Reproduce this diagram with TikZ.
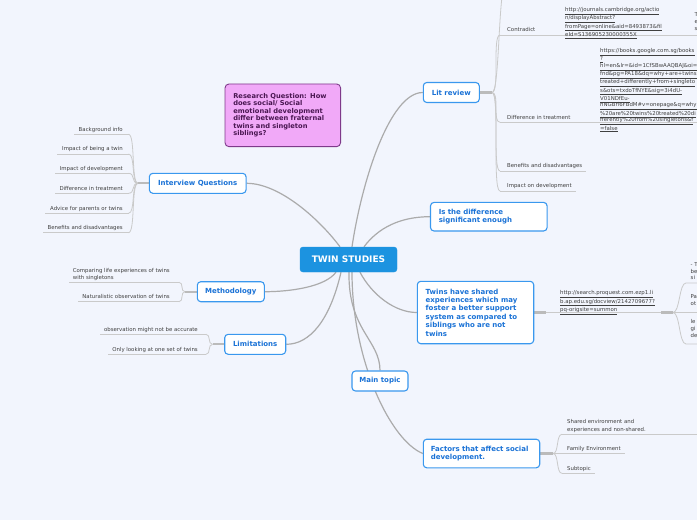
\documentclass[tikz,border=0pt]{standalone}
\usepackage{fontspec}
\setmainfont{DejaVu Sans}
\usetikzlibrary{calc}
\pgfdeclarelayer{back}
\pgfsetlayers{back,main}
\definecolor{bgcol}{HTML}{F2F5FD}
\definecolor{nodeblue}{HTML}{3A98EE}
\definecolor{txtblue}{HTML}{1A72D6}
\definecolor{centerblue}{HTML}{1C93E0}
\definecolor{linegray}{HTML}{ABABAB}
\definecolor{stubgray}{HTML}{BBBBBB}
\definecolor{sublinegray}{HTML}{CACACA}
\definecolor{subtxt}{HTML}{404040}
\definecolor{rqfill}{HTML}{F1A9F8}
\definecolor{rqdraw}{HTML}{7E3A8A}
\definecolor{rqtxt}{HTML}{4A1752}
\begin{document}
\begin{tikzpicture}[x=1pt,y=-1pt,
  mainnode/.style={draw=nodeblue, line width=1.1pt, fill=white, rounded corners=3.5pt,
    text=txtblue, font=\fontsize{7}{8.4}\selectfont\bfseries, inner sep=0pt,
    align=center, minimum height=20pt},
  widenode/.style={mainnode, align=left, text width=100pt, inner xsep=8.3pt, minimum height=28.6pt},
  centernode/.style={fill=centerblue, draw=centerblue, rounded corners=3pt, text=white,
    font=\fontsize{9}{10}\selectfont\bfseries, minimum width=97pt, minimum height=25pt, inner sep=0pt},
  rqnode/.style={draw=rqdraw, fill=rqfill, line width=0.9pt, rounded corners=4pt, text=rqtxt,
    font=\fontsize{6.7}{7.5}\selectfont\bfseries, align=left, text width=99pt,
    inner xsep=8.3pt, inner ysep=0pt, minimum height=62.7pt},
  subtext/.style={font=\fontsize{5.4}{7.5}\selectfont, text=subtxt, inner sep=0pt},
  urltext/.style={font=\fontsize{5.4}{6.7}\selectfont, text=subtxt, inner sep=0pt, align=left},
  mainline/.style={draw=linegray, line width=1.2pt},
  stubline/.style={draw=stubgray, line width=2.2pt},
  subline/.style={draw=sublinegray, line width=0.8pt},
]
\useasboundingbox (0,0) rectangle (697,520);
\begin{pgfonlayer}{back}
\fill[bgcol] (0,0) rectangle (697,520);
\end{pgfonlayer}

% ---------- main nodes ----------
\node[centernode] (c) at (348.5,259.5) {TWIN STUDIES};
\node[rqnode] (rq) at (282.8,115.3) {Research Question: How\\does social/ Social\\emotional development\\differ between fraternal\\twins and singleton\\siblings?};
\node[mainnode, minimum width=56pt] (lit) at (451.3,92.5) {Lit review};
\node[widenode] (diff) at (488.8,216.7) {Is the difference\\significant enough};
\node[mainnode, minimum width=96.7pt] (iq) at (197.7,183.3) {Interview Questions};
\node[mainnode, minimum width=67pt] (me) at (230.8,291.7) {Methodology};
\node[mainnode, minimum width=61pt] (lim) at (255.2,344.3) {Limitations};
\node[widenode, minimum height=62.4pt, text width=99.6pt, inner xsep=8.4pt] (tw) at (475.5,312.5) {Twins have shared\\experiences which may\\foster a better support\\system as compared to\\siblings who are not\\twins};
\node[mainnode, minimum width=56pt] (mt) at (380,381) {Main topic};
\node[widenode, text width=101.4pt, inner xsep=7.5pt] (fa) at (481.5,453.5) {Factors that affect social\\development.};

\begin{pgfonlayer}{back}
% ---------- main connectors ----------
\draw[mainline] ($(c.north)+(-8.5,0)$) .. controls (320,220) and (280,183.3) .. (iq.east);
\draw[mainline] ($(c.north)+(3.5,0)$) .. controls (362,180) and (390,92.5) .. (lit.west);
\draw[mainline] ($(c.north)+(15.5,0)$) .. controls (378,228) and (400,216.7) .. (diff.west);
\draw[mainline] ($(c.south)+(-12.5,0)$) .. controls (325,287) and (290,291.7) .. (me.east);
\draw[mainline] ($(c.south)+(-7.5,0)$) .. controls (330,320) and (310,344.3) .. (lim.east);
\draw[mainline] ($(c.south)+(0.5,0)$) .. controls (348,330) and (380,340) .. (mt.north);
\draw[mainline] ($(c.south)+(3.5,0)$) .. controls (352,360) and (390,440) .. (fa.west);
\draw[mainline] ($(c.south)+(11.5,0)$) .. controls (372,295) and (395,312.5) .. (tw.west);

% ---------- stubs ----------
\coordinate (litb) at (492,92.5);
\coordinate (iqb) at (138,183.3);
\coordinate (meb) at (185,291.7);
\coordinate (limb) at (212.5,344.3);
\coordinate (twb) at (546,312.5);
\coordinate (twu) at (661,312.5);
\coordinate (twc) at (673,312.5);
\coordinate (fab) at (553,453.5);
\draw[stubline] (lit.east) -- (litb);
\draw[stubline] (iq.west) -- (iqb);
\draw[stubline] (me.west) -- (meb);
\draw[stubline] (lim.west) -- (limb);
\draw[stubline] (tw.east) -- (twb);
\draw[stubline] (fa.east) -- (fab);

% ---------- Lit review children ----------
\coordinate (lc0) at (506,-16);
\coordinate (lc0e) at (560,-16);
\coordinate (lc1) at (500,35);
\coordinate (lc1e) at (700,35);
\coordinate (lc2) at (500,122.3);
\coordinate (lc2e) at (700,122.3);
\coordinate (lc3) at (500,171);
\coordinate (lc4) at (500,191);
\foreach \n in {lc0,lc1,lc2,lc3,lc4}
  \draw[subline] (litb) .. controls +(8,0) and +(-8,0) .. (\n);
\draw[subline] (lc0) -- (lc0e);
\node[subtext, anchor=base west] (lt1) at (507,31.7) {Contradict};
\node[subtext, anchor=base west] (lt2) at (507,119) {Difference in treatment};
\node[subtext, anchor=base west] (lt3) at (507,167.8) {Benefits and disadvantages};
\node[subtext, anchor=base west] (lt4) at (507,187.8) {Impact on development};
\draw[subline] (lc1) -- (lc1e);
\draw[subline] (lc2) -- (lc2e);
\draw[subline] (lc3) -- ($(lt3.east |- lc3)+(4,0)$);
\draw[subline] (lc4) -- ($(lt4.east |- lc4)+(4,0)$);
\node[urltext, anchor=north west] (lu1) at (565,7.3) {\underline{http://journals.cambridge.org/actio}\\\underline{n/displayAbstract?}\\\underline{fromPage=online\&aid=8493873\&fil}\\\underline{eId=S136905230000355X}};
\node[subtext, align=left, anchor=north west, font=\fontsize{5.4}{7.2}\selectfont] (lx1) at (694.5,12.3) {T\\e\\s};
\node[urltext, anchor=north west, font=\fontsize{5.4}{6.6}\selectfont] (lu2) at (600,48.5) {\underline{https://books.google.com.sg/books}\\\underline{?}\\\underline{hl=en\&lr=\&id=1CfSBwAAQBAJ\&oi=}\\\underline{fnd\&pg=PA18\&dq=why+are+twins+}\\\underline{treated+differently+from+singleto}\\\underline{s\&ots=txdoTfNYE\&sig=3i4dU-}\\\underline{V01NDfEu-}\\\underline{nNGBrl6FBdM\#v=onepage\&q=why}\\\underline{\%20are\%20twins\%20treated\%20di}\\\underline{fferently\%20from\%20singletons\&f}\\\underline{=false}};

% ---------- Interview Questions children ----------
\foreach \i/\yy/\txt in {1/134.3/Background info, 2/154/Impact of being a twin, 3/173.3/Impact of development, 4/193.3/Difference in treatment, 5/213.3/Advice for parents or twins, 6/232.7/Benefits and disadvantages} {
  \coordinate (iqc\i) at (128.5,\yy);
  \node[subtext, anchor=base east] (iqt\i) at (123,\yy-3.2) {\txt};
  \draw[subline] (iqc\i) -- ($(iqt\i.west |- iqc\i)+(-4.5,0)$);
  \draw[subline] (iqb) .. controls +(-7,0) and +(7,0) .. (iqc\i);
}

% ---------- Methodology children ----------
\coordinate (mc1) at (179,282.3);
\coordinate (mc2) at (179,301.7);
\node[subtext, align=left, anchor=north east, font=\fontsize{5.4}{7}\selectfont] (mct1) at (170,267.9) {Comparing life experiences of twins\\with singletons};
\node[subtext, anchor=base east] (mct2) at (170,298.5) {Naturalistic observation of twins};
\draw[subline] (mc1) -- ($(mct1.west |- mc1)+(-4,0)$);
\draw[subline] (mc2) -- ($(mct2.west |- mc2)+(-4,0)$);
\draw[subline] (meb) .. controls +(-5,0) and +(5,0) .. (mc1);
\draw[subline] (meb) .. controls +(-5,0) and +(5,0) .. (mc2);

% ---------- Limitations children ----------
\coordinate (lmc1) at (206,334.3);
\coordinate (lmc2) at (206,354.3);
\node[subtext, anchor=base east] (lmt1) at (198,331.1) {observation might not be accurate};
\node[subtext, anchor=base east] (lmt2) at (198,351.1) {Only looking at one set of twins};
\draw[subline] (lmc1) -- ($(lmt1.west |- lmc1)+(-4,0)$);
\draw[subline] (lmc2) -- ($(lmt2.west |- lmc2)+(-4,0)$);
\draw[subline] (limb) .. controls +(-5,0) and +(5,0) .. (lmc1);
\draw[subline] (limb) .. controls +(-5,0) and +(5,0) .. (lmc2);

% ---------- Twins children ----------
\node[urltext, anchor=north west, font=\fontsize{5.4}{7.2}\selectfont] (tu) at (560,290.5) {\underline{http://search.proquest.com.ezp1.li}\\\underline{b.ap.edu.sg/docview/2142709677?}\\\underline{pq-origsite=summon}};
\draw[subline] (twb) -- (twu);
\draw[stubline] (twu) -- (twc);
\coordinate (tc1) at (686,283);
\coordinate (tc1e) at (700,283);
\coordinate (tc2e) at (700,312.5);
\coordinate (tc3) at (686,344);
\coordinate (tc3e) at (700,344);
\draw[subline] (twc) .. controls +(7,0) and +(-7,0) .. (tc1) -- (tc1e);
\draw[subline] (twc) -- (tc2e);
\draw[subline] (twc) .. controls +(7,0) and +(-7,0) .. (tc3) -- (tc3e);
\node[subtext, align=left, anchor=north west, font=\fontsize{5.4}{6.6}\selectfont] (tt1) at (690.5,262.5) {- T\\be\\si};
\node[subtext, align=left, anchor=north west, font=\fontsize{5.4}{6.6}\selectfont] (tt2) at (690.5,294.5) {Pa\\ot};
\node[subtext, align=left, anchor=north west, font=\fontsize{5.4}{7}\selectfont] (tt3) at (690.5,319.5) {le\\gi\\de};

% ---------- Factors children ----------
\coordinate (fc1) at (562,434.3);
\coordinate (fc1e) at (700,434.3);
\coordinate (fc2) at (562,453.4);
\coordinate (fc3) at (562,473.3);
\node[subtext, align=left, anchor=north west, font=\fontsize{5.4}{7.7}\selectfont] (ft1) at (567,419.2) {Shared environment and\\experiences and non-shared.};
\node[subtext, anchor=base west] (ft2) at (567,450.1) {Family Environment};
\node[subtext, anchor=base west] (ft3) at (567,470.1) {Subtopic};
\draw[subline] (fab) .. controls +(6,0) and +(-6,0) .. (fc1);
\draw[subline] (fab) -- (fc2);
\draw[subline] (fab) .. controls +(6,0) and +(-6,0) .. (fc3);
\draw[subline] (fc1) -- (fc1e);
\draw[subline] (fc2) -- ($(ft2.east |- fc2)+(4,0)$);
\draw[subline] (fc3) -- ($(ft3.east |- fc3)+(4,0)$);
\end{pgfonlayer}
\end{tikzpicture}
\end{document}
